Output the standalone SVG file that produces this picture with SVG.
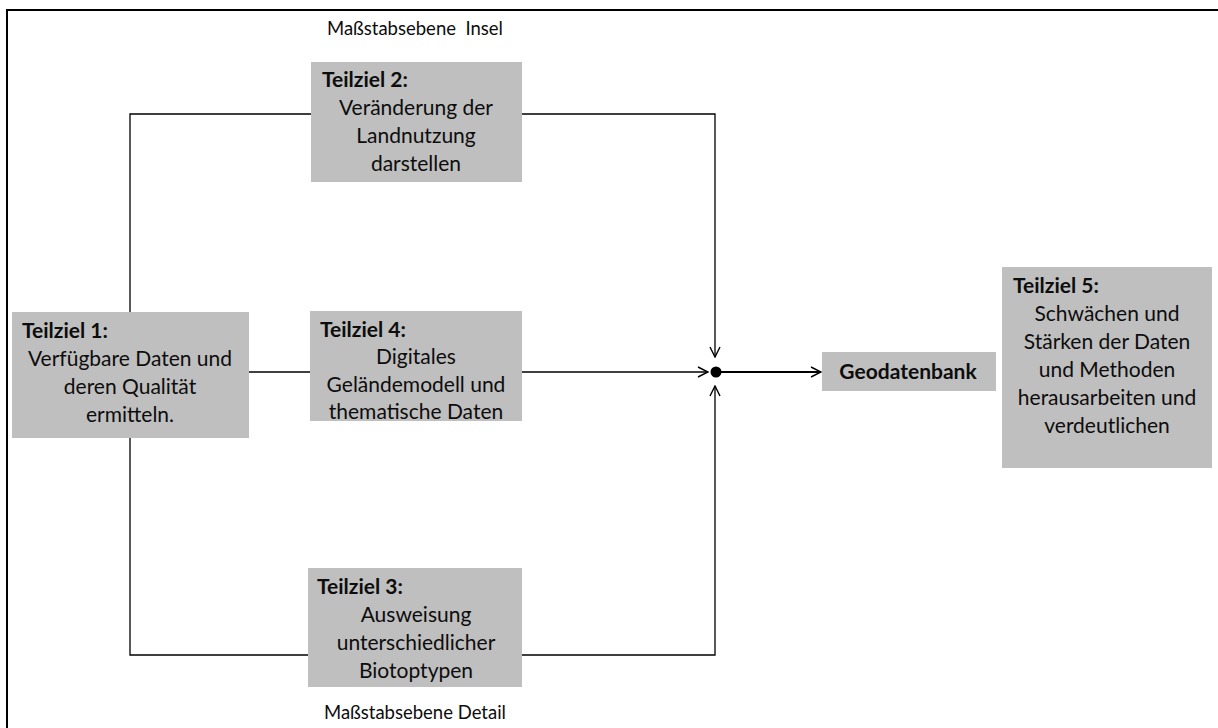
<svg xmlns="http://www.w3.org/2000/svg" width="1218" height="728" viewBox="0 0 1218 728">
<defs>
<style>
.box{fill:#bfbfbf;}
.t{font-family:Lato,"Liberation Sans",sans-serif;font-size:21px;fill:#0d0d0d;text-anchor:middle;}
.b{font-family:Lato,"Liberation Sans",sans-serif;font-size:21px;fill:#0d0d0d;font-weight:bold;}
.s{font-family:Lato,"Liberation Sans",sans-serif;font-size:18.5px;fill:#0d0d0d;text-anchor:middle;white-space:pre;}
.c{fill:none;stroke:#000;stroke-width:1.3;}
</style>
<marker id="ah" viewBox="0 0 12 12" refX="11" refY="6" markerWidth="12" markerHeight="12" markerUnits="userSpaceOnUse" orient="auto">
<path d="M1,1 L11,6 L1,11" fill="none" stroke="#000" stroke-width="1.4"/>
</marker>
</defs>
<rect width="1218" height="728" fill="#fff"/>
<path d="M7,728 V10 H1218" fill="none" stroke="#000" stroke-width="2"/>
<text class="s" x="415" y="35" xml:space="preserve">Maßstabsebene  Insel</text>
<text class="s" x="415" y="719">Maßstabsebene Detail</text>
<g id="connectors">
<path class="c" d="M130,312 V114 H311"/>
<path class="c" d="M522,114 H715 V357" marker-end="url(#ah)"/>
<path class="c" d="M249,372 H310"/>
<path class="c" d="M522,372 H708" marker-end="url(#ah)"/>
<path class="c" d="M130,437 V655 H308"/>
<path class="c" d="M522,655 H715 V386" marker-end="url(#ah)"/>
<path d="M716,372 H821" fill="none" stroke="#000" stroke-width="2" marker-end="url(#ah)"/>
<circle cx="716" cy="372" r="5.5" fill="#000"/>
</g>
<g id="teilziel1">
<rect class="box" x="12" y="312" width="237" height="126"/>
<text class="b" x="22" y="338">Teilziel 1:</text>
<text class="t" x="130" y="366">Verfügbare Daten und</text>
<text class="t" x="130" y="394">deren Qualität</text>
<text class="t" x="130" y="422">ermitteln.</text>
</g>
<g id="teilziel2">
<rect class="box" x="311" y="62" width="211" height="120"/>
<text class="b" x="322" y="87">Teilziel 2:</text>
<text class="t" x="416" y="115">Veränderung der</text>
<text class="t" x="416" y="143">Landnutzung</text>
<text class="t" x="416" y="171">darstellen</text>
</g>
<g id="teilziel4">
<rect class="box" x="310" y="311" width="212" height="110"/>
<text class="b" x="320" y="337">Teilziel 4:</text>
<text class="t" x="416" y="364">Digitales</text>
<text class="t" x="416" y="392">Geländemodell und</text>
<text class="t" x="416" y="419">thematische Daten</text>
</g>
<g id="teilziel3">
<rect class="box" x="308" y="568" width="214" height="119"/>
<text class="b" x="317" y="594">Teilziel 3:</text>
<text class="t" x="416" y="622">Ausweisung</text>
<text class="t" x="416" y="650">unterschiedlicher</text>
<text class="t" x="416" y="678">Biotoptypen</text>
</g>
<g id="geodatenbank">
<rect class="box" x="822" y="352" width="174" height="39"/>
<text class="b" x="908" y="379" text-anchor="middle">Geodatenbank</text>
</g>
<g id="teilziel5">
<rect class="box" x="1002" y="267" width="210" height="201"/>
<text class="b" x="1013" y="293">Teilziel 5:</text>
<text class="t" x="1107" y="321">Schwächen und</text>
<text class="t" x="1107" y="349">Stärken der Daten</text>
<text class="t" x="1107" y="377">und Methoden</text>
<text class="t" x="1107" y="405">herausarbeiten und</text>
<text class="t" x="1107" y="433">verdeutlichen</text>
</g>
</svg>
